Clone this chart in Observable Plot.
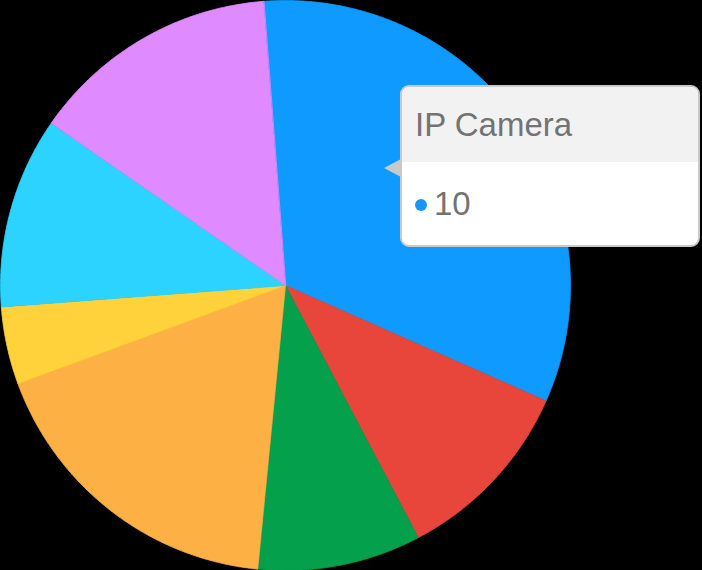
<!DOCTYPE html>
<html>
<head>
<meta charset="utf-8">
<script src="https://cdn.jsdelivr.net/npm/d3@7"></script>
<script src="https://cdn.jsdelivr.net/npm/@observablehq/plot@0.6"></script>
<style>
  html, body { margin: 0; padding: 0; background: #000; }
  #wrap { position: relative; width: 702px; height: 570px; overflow: hidden; background: #000; }
  #tip { position: absolute; left: 400px; top: 85px; width: 296px; height: 158px;
         border: 2px solid #c9c9c9; border-radius: 9px; background: #fff; overflow: hidden;
         font-family: "Liberation Sans", Arial, sans-serif; color: #737373; }
  #tip .head { height: 75px; background: #f2f2f2; font-size: 33px; line-height: 76px; padding-left: 13px; }
  #tip .body { position: relative; font-size: 33px; padding-left: 13px; height: 83px; line-height: 84px; }
  #tip .dot { display: inline-block; width: 12px; height: 12px; border-radius: 50%; background: #1597ff; margin-right: 7px; vertical-align: 4px; }
  #arrow { position: absolute; left: 384px; top: 159px; width: 0; height: 0;
           border-top: 9px solid transparent; border-bottom: 9px solid transparent; border-right: 17px solid #c9c9c9; }
</style>
</head>
<body>
<div id="wrap"></div>
<script>
const categories = ["IP Camera", "Router", "Smart Plug", "Smart TV", "Printer", "Laptop", "Phone"];
const values = [10, 3.24, 2.82, 5.43, 1.34, 3.3, 4.3];
const colors = ["#0f9aff", "#e8463a", "#05a04b", "#fdb044", "#ffd13b", "#2dd3ff", "#df8aff"];
const tipCategory = "IP Camera";

const startAngle = -4.4 * Math.PI / 180;
const arcs = d3.pie().sort(null).startAngle(startAngle).endAngle(startAngle + 2 * Math.PI)
  .value((d, i) => values[i])(categories);

// polygon vertices in the pie's unit coordinate space (x right, y up)
const pts = [];
arcs.forEach((a, i) => {
  const cat = categories[i];
  pts.push({cat, x: 0, y: 0});
  const n = Math.max(2, Math.ceil((a.endAngle - a.startAngle) / (Math.PI / 360)));
  for (let k = 0; k <= n; k++) {
    const t = a.startAngle + (a.endAngle - a.startAngle) * k / n;
    pts.push({cat, x: Math.sin(t), y: Math.cos(t)});
  }
});

const chart = Plot.plot({
  width: 702,
  height: 570,
  marginLeft: 0,
  marginRight: 132,
  marginTop: 0,
  marginBottom: 0,
  x: {domain: [-1, 1], axis: null},
  y: {domain: [-1, 1], axis: null},
  color: {domain: categories, range: colors},
  style: {background: "#000"},
  marks: [
    Plot.line(pts, {x: "x", y: "y", z: "cat", fill: "cat", stroke: "cat", strokeWidth: 0.8, curve: "linear-closed"})
  ]
});

const wrap = document.getElementById("wrap");
wrap.appendChild(chart);

const idx = categories.indexOf(tipCategory);
const arrow = document.createElement("div");
arrow.id = "arrow";
wrap.appendChild(arrow);
const tip = document.createElement("div");
tip.id = "tip";
tip.innerHTML = `<div class="head"></div><div class="body"><span class="dot"></span><span class="val"></span></div>`;
tip.querySelector(".head").textContent = tipCategory;
tip.querySelector(".val").textContent = String(values[idx]);
tip.querySelector(".dot").style.background = "#1597ff";
wrap.appendChild(tip);
</script>
</body>
</html>
